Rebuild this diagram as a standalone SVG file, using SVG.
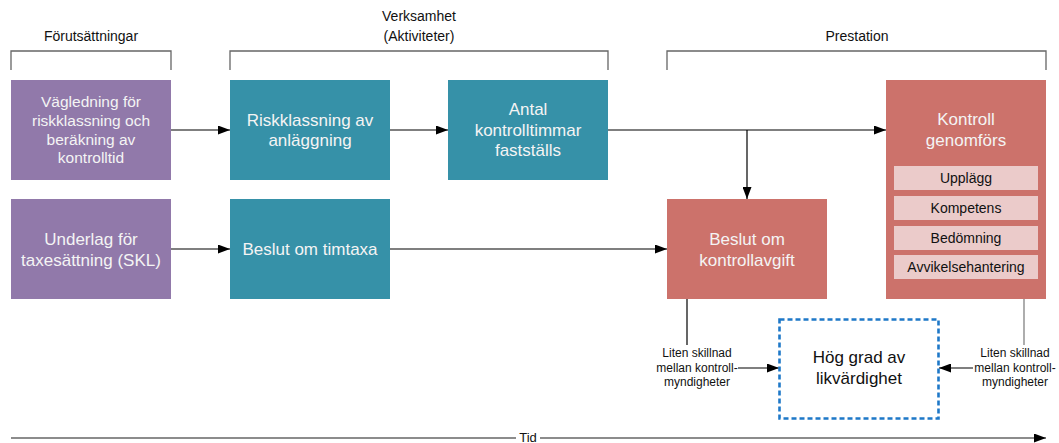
<svg xmlns="http://www.w3.org/2000/svg" width="1059" height="443" viewBox="0 0 1059 443">
<style>
text{font-family:"Liberation Sans",Arial,sans-serif;text-anchor:middle}
.lbl{font-size:14px;fill:#111}
.wt{font-size:17px;fill:#f4f4f4}
.wt2{font-size:15.5px;fill:#f4f4f4}
.sub{font-size:14px;fill:#111}
.sm{font-size:12px;fill:#111}
.pur{fill:#9179aa}
.tea{fill:#3691a8}
.red{fill:#cc726b}
.pink{fill:#ebcbca}
.br{fill:none;stroke:#666;stroke-width:1.3}
.ln{fill:none;stroke:#000;stroke-width:1.2}
</style>
<defs>
<marker id="ah" markerUnits="userSpaceOnUse" markerWidth="12" markerHeight="9" refX="12" refY="4.5" orient="auto">
<path d="M0,0 L12,4.5 L0,9 z" fill="#000"/>
</marker>
</defs>
<g id="brackets">
<path class="br" d="M11,70 V51 H171 V70"/>
<path class="br" d="M230,70 V51 H608 V70"/>
<path class="br" d="M667,70 V51 H1046 V70"/>
<text class="lbl" x="91" y="41">Förutsättningar</text>
<text class="lbl" x="419" y="21">Verksamhet</text>
<text class="lbl" x="419" y="41">(Aktiviteter)</text>
<text class="lbl" x="857" y="41">Prestation</text>
</g>
<g id="connectors">
<line class="ln" x1="171" y1="130" x2="230" y2="130" marker-end="url(#ah)"/>
<line class="ln" x1="390" y1="130" x2="448" y2="130" marker-end="url(#ah)"/>
<line class="ln" x1="608" y1="130" x2="886" y2="130" marker-end="url(#ah)"/>
<line class="ln" x1="747" y1="130" x2="747" y2="199" marker-end="url(#ah)"/>
<line class="ln" x1="171" y1="249" x2="230" y2="249" marker-end="url(#ah)"/>
<line class="ln" x1="390" y1="249" x2="667" y2="249" marker-end="url(#ah)"/>
<line class="ln" x1="687" y1="299" x2="687" y2="345"/>
<line class="ln" x1="1024" y1="299" x2="1024" y2="345" style="stroke:#777"/>
<line class="ln" x1="738" y1="368" x2="779" y2="368" marker-end="url(#ah)"/>
<line class="ln" x1="973" y1="368" x2="939" y2="368" marker-end="url(#ah)"/>
<line x1="11" y1="438" x2="1046" y2="438" stroke="#666" stroke-width="1.3" marker-end="url(#ah)"/>
<rect x="516" y="430" width="24" height="13" fill="#fff"/>
<text x="528" y="442" style="font-size:13px;fill:#111">Tid</text>
<text class="sm" x="697" y="357">Liten skillnad</text>
<text class="sm" x="697" y="372">mellan kontroll-</text>
<text class="sm" x="697" y="386">myndigheter</text>
<text class="sm" x="1015" y="357">Liten skillnad</text>
<text class="sm" x="1015" y="372">mellan kontroll-</text>
<text class="sm" x="1015" y="386">myndigheter</text>
</g>
<g id="n1">
<rect class="pur" x="11" y="80" width="160" height="100"/>
<text class="wt2"><tspan x="91" y="107">Vägledning för</tspan><tspan x="91" y="126">riskklassning och</tspan><tspan x="91" y="144.5">beräkning av</tspan><tspan x="91" y="163">kontrolltid</tspan></text>
</g>
<g id="n2">
<rect class="pur" x="11" y="199" width="160" height="100"/>
<text class="wt"><tspan x="91" y="245">Underlag för</tspan><tspan x="91" y="266">taxesättning (SKL)</tspan></text>
</g>
<g id="n3">
<rect class="tea" x="230" y="80" width="160" height="100"/>
<text class="wt"><tspan x="310" y="126">Riskklassning av</tspan><tspan x="310" y="146">anläggning</tspan></text>
</g>
<g id="n4">
<rect class="tea" x="448" y="80" width="160" height="100"/>
<text class="wt"><tspan x="528" y="115">Antal</tspan><tspan x="528" y="135.5">kontrolltimmar</tspan><tspan x="528" y="156">fastställs</tspan></text>
</g>
<g id="n5">
<rect class="tea" x="230" y="199" width="160" height="100"/>
<text class="wt" x="310" y="255">Beslut om timtaxa</text>
</g>
<g id="n6">
<rect class="red" x="667" y="199" width="160" height="100"/>
<text class="wt"><tspan x="747" y="245">Beslut om</tspan><tspan x="747" y="266">kontrollavgift</tspan></text>
</g>
<g id="n7">
<rect class="red" x="886" y="80" width="160" height="219"/>
<text class="wt"><tspan x="966" y="125">Kontroll</tspan><tspan x="966" y="146">genomförs</tspan></text>
<rect class="pink" x="894" y="166" width="144" height="24"/>
<text class="sub" x="966" y="183">Upplägg</text>
<rect class="pink" x="894" y="196" width="144" height="24"/>
<text class="sub" x="966" y="213">Kompetens</text>
<rect class="pink" x="894" y="226" width="144" height="24"/>
<text class="sub" x="966" y="243">Bedömning</text>
<rect class="pink" x="894" y="255" width="144" height="24"/>
<text class="sub" x="966" y="272">Avvikelsehantering</text>
</g>
<g id="n8">
<rect x="779.5" y="319.5" width="159" height="99" fill="none" stroke="#1e78c8" stroke-width="2.6" stroke-dasharray="5,3"/>
<text style="font-size:17px;fill:#111"><tspan x="859" y="363">Hög grad av</tspan><tspan x="859" y="384">likvärdighet</tspan></text>
</g>
</svg>
